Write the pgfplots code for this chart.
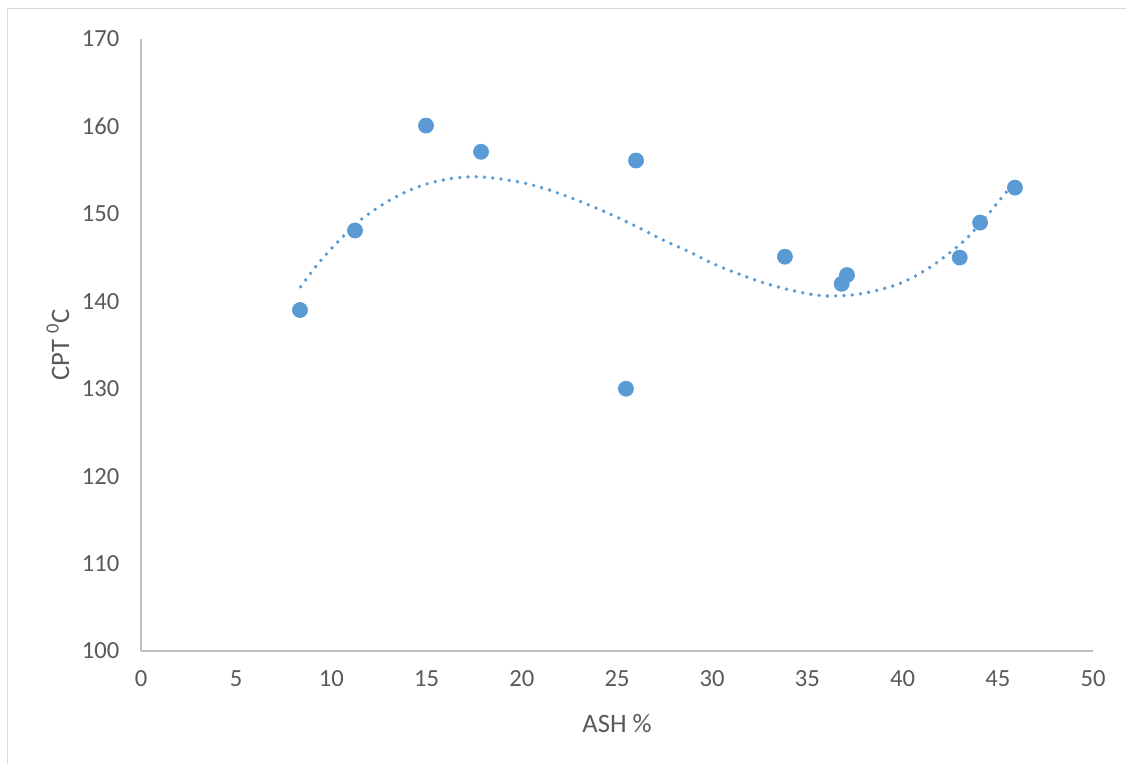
\documentclass[border=0pt]{standalone}
\usepackage{fontspec}
\setmainfont{Carlito}
\usepackage{pgfplots}
\pgfplotsset{compat=1.18}
\definecolor{ser}{HTML}{5B9BD5}
\definecolor{axl}{HTML}{BFBFBF}
\definecolor{txt}{HTML}{595959}
\begin{document}
\begin{tikzpicture}
\path[use as bounding box] (0,0) rectangle (563pt,-382pt);
\draw[color=black!15, line width=0.8pt] (3.75pt,-382pt) -- (3.75pt,-4.25pt) -- (563pt,-4.25pt);
\begin{axis}[
  at={(70.5pt,-325.5pt)}, anchor=south west,
  scale only axis, width=476pt, height=306pt,
  xmin=0, xmax=50, ymin=100, ymax=170,
  xtick={0,5,...,50}, ytick={100,110,...,170},
  axis x line*=bottom, axis y line*=left,
  axis line style={color=axl, line width=0.8pt, -},
  tick style={draw=none},
  major tick length=0pt,
  tick label style={color=txt, font=\fontsize{12.3}{14}\selectfont},
  /pgf/number format/assume math mode=true,
  xticklabel style={yshift=-6.3pt},
  yticklabel style={xshift=-7.3pt},
  label style={color=txt, font=\fontsize{13.3}{15}\selectfont},
  xlabel={ASH \%},
  ylabel={CPT \textsuperscript{0}C},
  xlabel style={at={(axis description cs:0.5,0)}, anchor=center, yshift=-36.5pt},
  ylabel style={at={(axis description cs:-0.0872,0.5)}, anchor=center},
  clip=false,
]
\addplot[color=ser, line width=1.9pt, line cap=round, dash pattern=on 0pt off 4.15pt, smooth, tension=0.5] coordinates {
(8.39,141.67) (9.19,144.0) (10.07,146.2) (11.37,149.0) (12.43,150.7) (13.6,152.2)
(14.84,153.3) (16.15,154.0) (17.5,154.25) (18.86,154.0) (20.17,153.5) (21.48,152.7)
(22.74,151.7) (23.98,150.6) (25.21,149.4) (26.43,148.1) (27.62,146.8) (28.85,145.6)
(30.05,144.3) (31.31,143.2) (32.57,142.2) (33.88,141.4) (35.2,140.8) (36.1,140.6)
(37.45,140.75) (38.76,141.3) (40.04,142.2) (41.23,143.6) (42.33,145.3) (43.37,147.2)
(44.55,150.1) (45.41,152.4) (45.9,153.6)
};
\addplot[only marks, mark=*, mark size=3.75pt, color=ser, mark options={fill=ser, draw=ser}] coordinates {
(8.35,139.0) (11.24,148.1) (14.97,160.1) (17.86,157.1) (25.47,130.0) (26.0,156.1)
(33.82,145.1) (36.8,142.0) (37.08,143.0) (43.0,145.0) (44.07,149.0) (45.9,153.0)
};
\end{axis}
\end{tikzpicture}
\end{document}
